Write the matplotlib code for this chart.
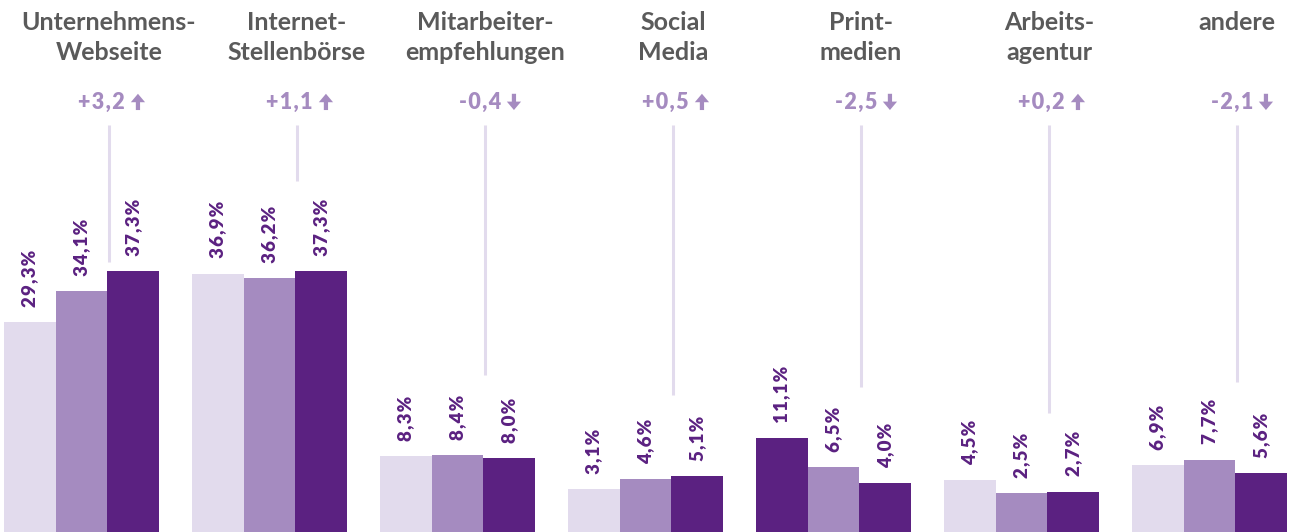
import matplotlib.pyplot as plt
import numpy as np

# Daten
categories = ['Unternehmens-\nWebseite', 'Internet-\nStellenbörse', 'Mitarbeiter-\nempfehlungen',
              'Social\nMedia', 'Print-\nmedien', 'Arbeits-\nagentur', 'andere']
werte_1 = [29.3, 36.9, 8.3, 3.1, 11.1, 4.5, 6.9]
werte_2 = [34.1, 36.2, 8.4, 4.6, 6.5, 2.5, 7.7]
werte_3 = [37.3, 37.3, 8.0, 5.1, 4.0, 2.7, 5.6]
deltas = ['+3,2', '+1,1', '-0,4', '+0,5', '-2,5', '+0,2', '-2,1']
linien_ende = [38.7, 51.4, 21.0, 17.9, 19.1, 15.0, 19.9]

hell = '#E2DBED'
mittel = '#A58BC0'
dunkel = '#5B2181'
grau = '#5A5A5A'
# Farbe je Balken (Print-medien: erster Balken dunkel)
farben = [[hell, mittel, dunkel]] * 7
farben[4] = [dunkel, mittel, dunkel]

plt.rcParams['font.family'] = ['Lato', 'DejaVu Sans']

fig = plt.figure(figsize=(12.93, 5.32), dpi=100)
ax = fig.add_axes([0, 0, 1, 1])

# die Balken beginnen unterhalb der Null (Basis liegt unter dem Bildrand)
basis = -3.64
px = 1 / 188  # Breite eines Pixels in x-Einheiten

x = np.arange(len(categories))
w = 0.275
serien = [werte_1, werte_2, werte_3]
for j, werte in enumerate(serien):
    pos = x + (j - 1) * w
    hoehe = np.array(werte) - basis
    bars = ax.bar(pos, hoehe, bottom=basis, width=w, color=[f[j] for f in farben], linewidth=0)
    for b, v in zip(bars, werte):
        txt = '\u200a'.join(f'{v:.1f}%'.replace('.', ','))
        ax.annotate(txt, (b.get_x() + b.get_width() / 2, v),
                    xytext=(0, 11), textcoords='offset points', rotation=90,
                    ha='center', va='bottom', fontsize=13.5, fontweight='heavy', color=dunkel)

for i, cat in enumerate(categories):
    lx = i + 0.146
    ax.plot([lx, lx], [linien_ende[i], 60.2], color=hell, lw=2.2, solid_capstyle='butt')
    ax.text(lx, 78.1, cat, ha='center', va='top', fontsize=18, fontweight='bold',
            color=grau, linespacing=1.37)
    txt = '\u200a'.join(deltas[i])
    ax.text(lx + 16 * px, 63.8, txt, ha='right', va='center', fontsize=15.5,
            fontweight='heavy', color=mittel)
    hoch = deltas[i].startswith('+')
    y0, y1 = (62.55, 65.1) if hoch else (65.1, 62.55)
    ax.annotate('', xy=(lx + 29 * px, y1), xytext=(lx + 29 * px, y0),
                arrowprops=dict(arrowstyle='simple,head_length=0.38,head_width=0.64,tail_width=0.19',
                                fc=mittel, ec='none', lw=0, mutation_scale=16,
                                shrinkA=0, shrinkB=0))

ax.set_xlim(-81.5 / 188, (1293 - 81.5) / 188)
ax.set_ylim(basis, 508.8 / 6.375)
ax.axis('off')

plt.savefig('out.png', dpi=100)
plt.close()
